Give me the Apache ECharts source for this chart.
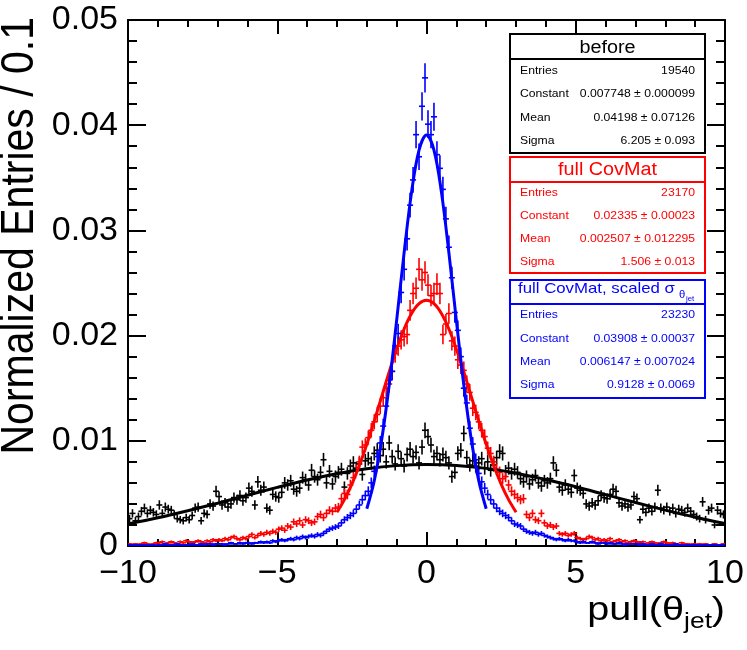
<!DOCTYPE html>
<html>
<head>
<meta charset="utf-8">
<script src="https://cdn.jsdelivr.net/npm/echarts/dist/echarts.min.js"></script>
<style>
  html, body { margin: 0; padding: 0; background: #fff; }
  #chart { width: 747px; height: 650px; }
</style>
</head>
<body>
<div id="chart"></div>
<script>
var FONT = 'Liberation Sans, Arial, Helvetica, sans-serif';

// histogram binning: 200 bins of 0.1 from -10 to 10
var X_MIN = -10;
var BIN = 0.1;

// "before" (black), bin contents
var beforeValues = [
  0.0026, 0.0031, 0.0024, 0.0028, 0.0033, 0.0036, 0.0031, 0.0034, 0.0032, 0.0030,
  0.0039, 0.0031, 0.0037, 0.0035, 0.0034, 0.0030, 0.0026, 0.0025, 0.0024, 0.0027,
  0.0025, 0.0029, 0.0036, 0.0037, 0.0024, 0.0031, 0.0030, 0.0040, 0.0038, 0.0052,
  0.0047, 0.0039, 0.0041, 0.0037, 0.0040, 0.0046, 0.0044, 0.0048, 0.0043, 0.0046,
  0.0055, 0.0052, 0.0039, 0.0061, 0.0053, 0.0056, 0.0036, 0.0034, 0.0049, 0.0047,
  0.0046, 0.0051, 0.0060, 0.0058, 0.0062, 0.0054, 0.0052, 0.0055, 0.0065, 0.0063,
  0.0058, 0.0072, 0.0066, 0.0063, 0.0070, 0.0082, 0.0060, 0.0071, 0.0059, 0.0066,
  0.0070, 0.0073, 0.0056, 0.0069, 0.0076, 0.0079, 0.0074, 0.0078, 0.0068, 0.0081,
  0.0083, 0.0079, 0.0088, 0.0091, 0.0086, 0.0092, 0.0080, 0.0098, 0.0085, 0.0078,
  0.0090, 0.0083, 0.0076, 0.0087, 0.0092, 0.0085, 0.0089, 0.0079, 0.0094, 0.0110,
  0.0104, 0.0096, 0.0085, 0.0088, 0.0082, 0.0087, 0.0084, 0.0079, 0.0066, 0.0070,
  0.0088, 0.0091, 0.0107, 0.0084, 0.0077, 0.0081, 0.0076, 0.0079, 0.0083, 0.0074,
  0.0080, 0.0072, 0.0077, 0.0084, 0.0090, 0.0088, 0.0071, 0.0074, 0.0069, 0.0073,
  0.0070, 0.0064, 0.0061, 0.0066, 0.0059, 0.0063, 0.0067, 0.0060, 0.0057, 0.0062,
  0.0060, 0.0064, 0.0079, 0.0072, 0.0056, 0.0053, 0.0058, 0.0054, 0.0051, 0.0067,
  0.0055, 0.0053, 0.0050, 0.0040, 0.0038, 0.0041, 0.0039, 0.0043, 0.0048, 0.0046,
  0.0045, 0.0049, 0.0054, 0.0052, 0.0041, 0.0038, 0.0040, 0.0037, 0.0039, 0.0047,
  0.0045, 0.0025, 0.0035, 0.0032, 0.0036, 0.0033, 0.0037, 0.0053, 0.0036, 0.0034,
  0.0037, 0.0033, 0.0036, 0.0031, 0.0035, 0.0034, 0.0032, 0.0036, 0.0033, 0.0030,
  0.0028, 0.0026, 0.0042, 0.0025, 0.0034, 0.0036, 0.0020, 0.0034, 0.0031, 0.0030
];

// "full CovMat" (red)
var covValues = [
  0.0002, 0.0001, 0.0002, 0.0001, 0.0002, 0.0003, 0.0002, 0.0001, 0.0002, 0.0003,
  0.0003, 0.0004, 0.0002, 0.0003, 0.0004, 0.0003, 0.0002, 0.0004, 0.0003, 0.0005,
  0.0004, 0.0003, 0.0004, 0.0005, 0.0004, 0.0003, 0.0005, 0.0004, 0.0006, 0.0005,
  0.0006, 0.0005, 0.0007, 0.0006, 0.0008, 0.0009, 0.0007, 0.0006, 0.0008, 0.0007,
  0.0009, 0.0011, 0.0008, 0.0010, 0.0012, 0.0011, 0.0013, 0.0012, 0.0014, 0.0013,
  0.0016, 0.0017, 0.0015, 0.0019, 0.0018, 0.0023, 0.0021, 0.0024, 0.0020, 0.0025,
  0.0024, 0.0022, 0.0023, 0.0028, 0.0030, 0.0027, 0.0031, 0.0034, 0.0033, 0.0036,
  0.0037, 0.0045, 0.0050, 0.0049, 0.0058, 0.0065, 0.0072, 0.0080, 0.0094, 0.0096,
  0.0103, 0.0110, 0.0118, 0.0125, 0.0133, 0.0141, 0.0150, 0.0154, 0.0166, 0.0183,
  0.0190, 0.0196, 0.0199, 0.0201, 0.0224, 0.0240, 0.0245, 0.0263, 0.0253, 0.0260,
  0.0248, 0.0238, 0.0240, 0.0249, 0.0240, 0.0201, 0.0211, 0.0221, 0.0195, 0.0190,
  0.0177, 0.0172, 0.0167, 0.0154, 0.0146, 0.0131, 0.0127, 0.0118, 0.0110, 0.0104,
  0.0093, 0.0088, 0.0080, 0.0073, 0.0070, 0.0064, 0.0066, 0.0058, 0.0052, 0.0049,
  0.0046, 0.0044, 0.0045, 0.0030, 0.0027, 0.0031, 0.0025, 0.0024, 0.0031, 0.0022,
  0.0019, 0.0020, 0.0018, 0.0019, 0.0012, 0.0011, 0.0012, 0.0010, 0.0011, 0.0012,
  0.0008, 0.0007, 0.0006, 0.0007, 0.0009, 0.0008, 0.0006, 0.0007, 0.0005, 0.0006,
  0.0005, 0.0007, 0.0004, 0.0005, 0.0006, 0.0004, 0.0005, 0.0003, 0.0004, 0.0005,
  0.0004, 0.0003, 0.0004, 0.0002, 0.0003, 0.0004, 0.0003, 0.0002, 0.0003, 0.0004,
  0.0003, 0.0002, 0.0003, 0.0002, 0.0001, 0.0003, 0.0002, 0.0002, 0.0001, 0.0002,
  0.0001, 0.0002, 0.0001, 0.0002, 0.0001, 0.0001, 0.0002, 0.0001, 0.0001, 0.0002
];

// "full CovMat, scaled sigma" (blue)
var scaledValues = [
  0.0001, 0.0001, 0.00005, 0.0001, 0.0001, 0.0001, 0.00005, 0.0001, 0.0001, 0.00005,
  0.0001, 0.0001, 0.0002, 0.0001, 0.0001, 0.0001, 0.0002, 0.0001, 0.0001, 0.0001,
  0.0001, 0.0002, 0.0001, 0.0001, 0.0002, 0.0001, 0.0002, 0.0002, 0.0001, 0.0002,
  0.0002, 0.0002, 0.0001, 0.0002, 0.0003, 0.0002, 0.0002, 0.0003, 0.0002, 0.0003,
  0.0003, 0.0002, 0.0003, 0.0003, 0.0004, 0.0003, 0.0004, 0.0003, 0.0005, 0.0004,
  0.0005, 0.0006, 0.0005, 0.0006, 0.0007, 0.0006, 0.0008, 0.0007, 0.0009, 0.0008,
  0.0009, 0.0010, 0.0009, 0.0011, 0.0010, 0.0012, 0.0014, 0.0016, 0.0017, 0.0018,
  0.0019, 0.0022, 0.0025, 0.0027, 0.0029, 0.0031, 0.0035, 0.0039, 0.0044, 0.0048,
  0.0052, 0.0060, 0.0071, 0.0085, 0.0098, 0.0114, 0.0133, 0.0158, 0.0166, 0.0190,
  0.0202, 0.0241, 0.0263, 0.0292, 0.0324, 0.0348, 0.0391, 0.0370, 0.0418, 0.0445,
  0.0401, 0.0391, 0.0408, 0.0372, 0.0359, 0.0339, 0.0311, 0.0284, 0.0255, 0.0222,
  0.0205, 0.0180, 0.0150, 0.0136, 0.0112, 0.0097, 0.0082, 0.0069, 0.0061, 0.0055,
  0.0049, 0.0044, 0.0040, 0.0036, 0.0033, 0.0031, 0.0029, 0.0027, 0.0024, 0.0021,
  0.0020, 0.0019, 0.0016, 0.0014, 0.0013, 0.0012, 0.0013, 0.0011, 0.0012, 0.0010,
  0.0009, 0.0008, 0.0007, 0.0006, 0.0007, 0.0006, 0.0005, 0.0006, 0.0005, 0.0005,
  0.0004, 0.0003, 0.0004, 0.0003, 0.0003, 0.0004, 0.0003, 0.0002, 0.0003, 0.0003,
  0.0002, 0.0003, 0.0002, 0.0002, 0.0003, 0.0002, 0.0001, 0.0002, 0.0002, 0.0002,
  0.0002, 0.0001, 0.0002, 0.0001, 0.0001, 0.0002, 0.0001, 0.0001, 0.0002, 0.0001,
  0.0001, 0.0001, 0.0001, 0.0002, 0.0001, 0.0001, 0.00005, 0.0001, 0.0001, 0.0001,
  0.0001, 0.00005, 0.0001, 0.0001, 0.00005, 0.0001, 0.0001, 0.00005, 0.0001, 0.0001
];

// fitted gaussian curves
var beforeFitX = [-10, -9, -8, -7, -6, -5, -4, -3, -2, -1, 0, 1, 2, 3, 4, 5, 6, 7, 8, 9, 10];
var beforeFitY = [0.00209, 0.00268, 0.00335, 0.00407, 0.00482, 0.00557, 0.00627, 0.00687, 0.00734, 0.00764,
  0.00775, 0.00766, 0.00738, 0.00692, 0.00632, 0.00563, 0.00488, 0.00413, 0.00341, 0.00274, 0.00214];

var covFitX = [-3, -2.75, -2.5, -2.25, -2, -1.75, -1.5, -1.25, -1, -0.75, -0.5, -0.25, 0,
  0.25, 0.5, 0.75, 1, 1.25, 1.5, 1.75, 2, 2.25, 2.5, 2.75, 3];
var covFitY = [0.00321, 0.00441, 0.00589, 0.00765, 0.00967, 0.01189, 0.01422, 0.01655, 0.01873, 0.02063, 0.02210, 0.02303, 0.02335,
  0.02303, 0.02210, 0.02063, 0.01873, 0.01655, 0.01422, 0.01189, 0.00967, 0.00765, 0.00589, 0.00441, 0.00321];

var scaledFitX = [-2, -1.75, -1.5, -1.25, -1, -0.75, -0.5, -0.25, 0, 0.25, 0.5, 0.75, 1, 1.25, 1.5, 1.75, 2];
var scaledFitY = [0.00354, 0.00622, 0.01013, 0.01530, 0.02144, 0.02788, 0.03364, 0.03764, 0.03908,
  0.03764, 0.03364, 0.02788, 0.02144, 0.01530, 0.01013, 0.00622, 0.00354];

// stat boxes
var beforeStats = [['Entries', '19540'], ['Constant', '0.007748 \u00b1 0.000099'], ['Mean', '0.04198 \u00b1 0.07126'], ['Sigma', '6.205 \u00b1 0.093']];
var covStats = [['Entries', '23170'], ['Constant', '0.02335 \u00b1 0.00023'], ['Mean', '0.002507 \u00b1 0.012295'], ['Sigma', '1.506 \u00b1 0.013']];
var scaledStats = [['Entries', '23230'], ['Constant', '0.03908 \u00b1 0.00037'], ['Mean', '0.006147 \u00b1 0.007024'], ['Sigma', '0.9128 \u00b1 0.0069']];
var ENTRIES = [19540, 23170, 23230];

var xTicks = [-10, -5, 0, 5, 10];
var yTicks = [0, 0.01, 0.02, 0.03, 0.04, 0.05];

function histData(values, entries) {
  return values.map(function (v, i) {
    return [X_MIN + (i + 0.5) * BIN, v, Math.sqrt(v / entries)];
  });
}

function pairs(xs, ys) {
  return xs.map(function (x, i) { return [x, ys[i]]; });
}

function errorBars(color) {
  return function (params, api) {
    var x = api.value(0), y = api.value(1), e = api.value(2);
    var c = api.coord([x, y]);
    var top = api.coord([x, y + e]);
    var bot = api.coord([x, Math.max(y - e, 0)]);
    var st = { stroke: color, lineWidth: 1.6 };
    return {
      type: 'group',
      children: [
        { type: 'line', shape: { x1: c[0] - 3, y1: c[1], x2: c[0] + 3, y2: c[1] }, style: st },
        { type: 'line', shape: { x1: c[0], y1: top[1], x2: c[0], y2: bot[1] }, style: st }
      ]
    };
  };
}

function histSeries(values, entries, color) {
  return {
    type: 'custom',
    renderItem: errorBars(color),
    data: histData(values, entries),
    encode: { x: 0, y: 1 },
    clip: true,
    silent: true
  };
}

function fitSeries(xs, ys, color) {
  return {
    type: 'line',
    data: pairs(xs, ys),
    smooth: 0.35,
    symbol: 'none',
    lineStyle: { color: color, width: 3 },
    silent: true
  };
}

function txt(x, y, s, size, color, align, sx) {
  return {
    type: 'text', x: x, y: y, z: 100, scaleX: sx || 1.06,
    style: { text: s, fontSize: size, fontFamily: FONT, fill: color, align: align, verticalAlign: 'middle' }
  };
}

function statBox(top, bottom, sep, color, rows, rowY) {
  var els = [
    { type: 'rect', z: 99, shape: { x: 510, y: top, width: 195, height: bottom - top },
      style: { fill: '#fff', stroke: color, lineWidth: 2 } },
    { type: 'line', z: 100, shape: { x1: 510, y1: sep, x2: 705, y2: sep },
      style: { stroke: color, lineWidth: 2 } }
  ];
  rows.forEach(function (r, i) {
    els.push(txt(520, rowY[i], r[0], 11.5, color, 'left'));
    els.push(txt(695, rowY[i], r[1], 11.5, color, 'right'));
  });
  return els;
}

var graphics = [].concat(
  statBox(34, 153, 59, '#000', beforeStats, [71, 94, 117.5, 141]),
  [txt(607.5, 48.5, 'before', 18, '#000', 'center', 1.1)],
  statBox(157, 273, 182, '#ff0000', covStats, [193, 216, 239, 261.5]),
  [txt(607.5, 170.5, 'full CovMat', 18, '#ff0000', 'center', 1.1)],
  statBox(280, 398, 304, '#0000ff', scaledStats, [315, 338.5, 362, 385]),
  [
    txt(518, 288.5, 'full CovMat, scaled \u03c3', 15, '#0000ff', 'left', 1.12),
    txt(679, 295.5, '\u03b8', 10, '#0000ff', 'left', 1.12),
    txt(686, 299, 'jet', 7, '#0000ff', 'left', 1.12)
  ],
  [
    // x axis title pull(theta_jet)
    txt(725, 610.5, ')', 33, '#000', 'right', 1.2),
    txt(712, 621.5, 'jet', 22, '#000', 'right', 1.2),
    txt(684, 610.5, 'pull(\u03b8', 33, '#000', 'right', 1.2),
    // y axis title
    {
      type: 'text', x: 20.5, y: 17, z: 100, rotation: Math.PI / 2, scaleY: 1.12,
      style: { text: 'Normalized Entries / 0.1', fontSize: 41, fontFamily: FONT, fill: '#000',
        align: 'right', verticalAlign: 'middle' }
    }
  ]
);

var tickStyle = { color: '#000', width: 2 };

function xAxisDef(pos, showLabels) {
  return {
    type: 'value', position: pos, min: xTicks[0], max: xTicks[xTicks.length - 1],
    interval: xTicks[1] - xTicks[0],
    axisLine: { show: true, onZero: false, lineStyle: tickStyle },
    axisTick: { show: true, inside: true, length: 14, lineStyle: tickStyle },
    minorTick: { show: true, splitNumber: 5, length: 7, lineStyle: tickStyle },
    splitLine: { show: false },
    axisLabel: {
      show: showLabels, fontSize: 34, fontFamily: FONT, color: '#000', margin: 11,
      formatter: function (v) { return String(v).replace('-', '\u2212'); }
    }
  };
}

function yAxisDef(pos, showLabels) {
  return {
    type: 'value', position: pos, min: yTicks[0], max: yTicks[yTicks.length - 1],
    interval: yTicks[1] - yTicks[0],
    axisLine: { show: true, onZero: false, lineStyle: tickStyle },
    axisTick: { show: true, inside: true, length: 18, lineStyle: tickStyle },
    minorTick: { show: true, splitNumber: 5, length: 9, lineStyle: tickStyle },
    splitLine: { show: false },
    axisLabel: { show: showLabels, fontSize: 34, fontFamily: FONT, color: '#000', margin: 10 }
  };
}

var chartDom = document.getElementById('chart');
var myChart = echarts.init(chartDom, null, { renderer: 'canvas' });

var option = {
  backgroundColor: '#fff',
  animation: false,
  grid: { left: 128, right: 22, top: 20, bottom: 104, containLabel: false },
  xAxis: [xAxisDef('bottom', true), xAxisDef('top', false)],
  yAxis: [yAxisDef('left', true), yAxisDef('right', false)],
  series: [
    histSeries(beforeValues, ENTRIES[0], '#000'),
    fitSeries(beforeFitX, beforeFitY, '#000'),
    histSeries(covValues, ENTRIES[1], '#ff0000'),
    fitSeries(covFitX, covFitY, '#ff0000'),
    histSeries(scaledValues, ENTRIES[2], '#0000ff'),
    fitSeries(scaledFitX, scaledFitY, '#0000ff')
  ],
  graphic: { elements: graphics }
};

myChart.setOption(option);
window.addEventListener('resize', () => myChart.resize());
</script>
</body>
</html>
